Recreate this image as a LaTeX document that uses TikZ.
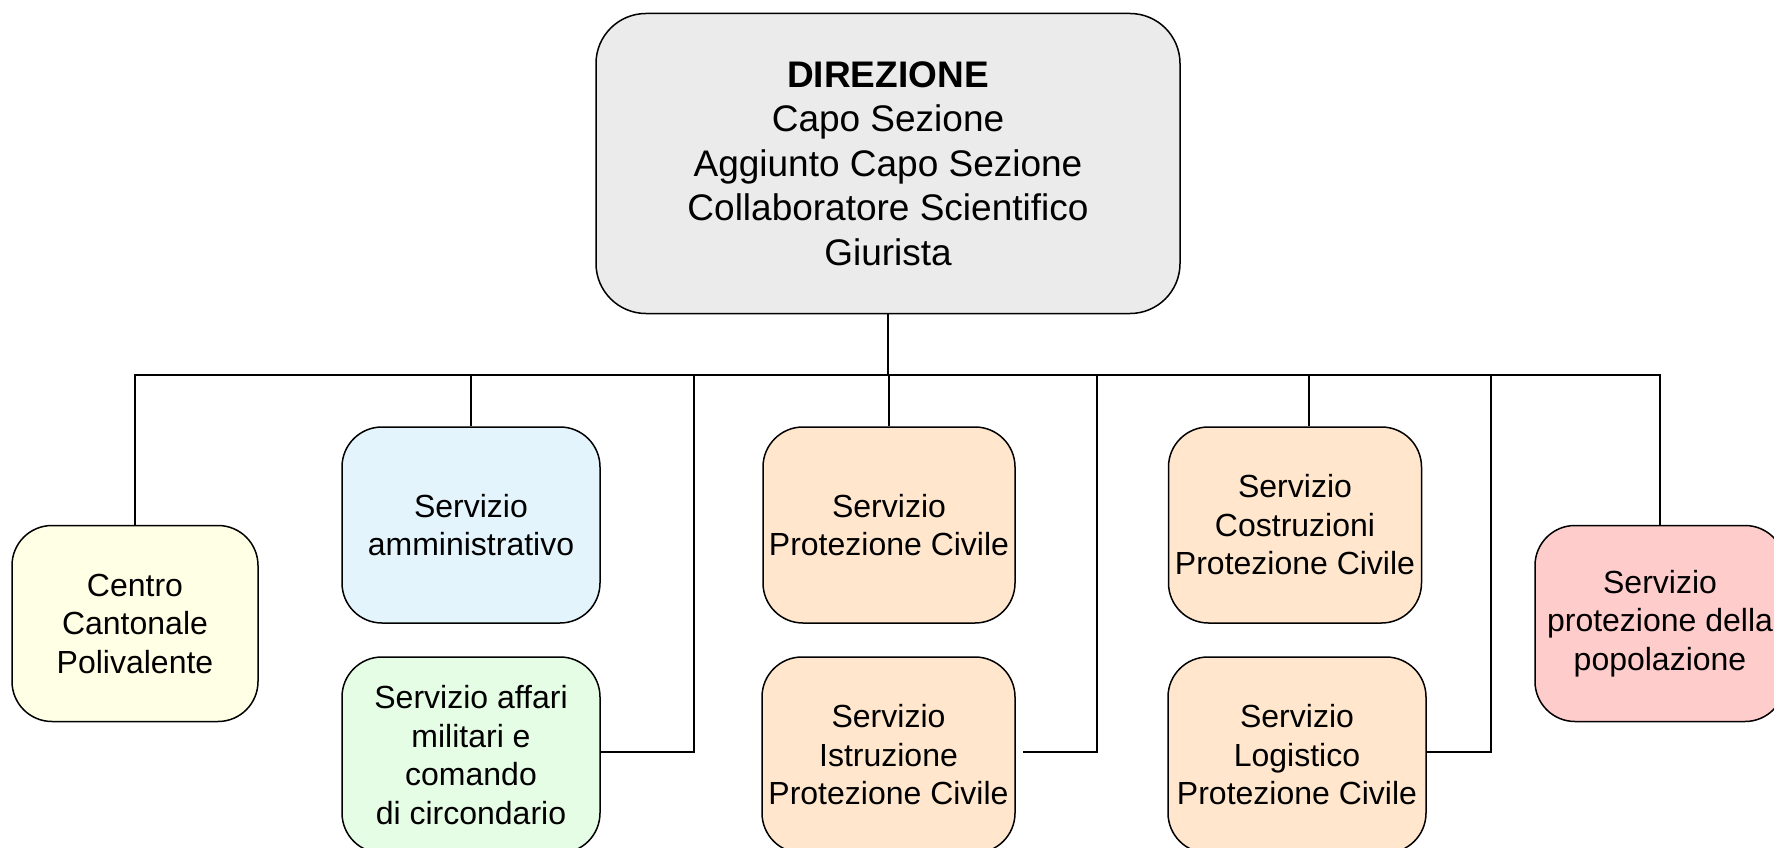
\documentclass[tikz,border=0pt]{standalone}
\usepackage{fontspec}
\setmainfont{Liberation Sans}
\usetikzlibrary{positioning}

\definecolor{dirgray}{HTML}{EBEBEB}
\definecolor{centroyellow}{HTML}{FFFFE5}
\definecolor{ammblue}{HTML}{E3F4FC}
\definecolor{milgreen}{HTML}{E5FCE5}
\definecolor{pcpeach}{HTML}{FFE6CC}
\definecolor{poppink}{HTML}{FFCCCC}

\tikzset{
    servbox/.style={draw,line width=1.5pt,rounded corners=40pt,align=center,
        inner sep=0pt,minimum height=196pt,
        font=\fontsize{32}{38.5}\selectfont},
    link/.style={line width=1.5pt}
}

\begin{document}
\begin{tikzpicture}[x=1pt,y=-1pt]
        \useasboundingbox (0,0) rectangle (1774,848);

        % Direzione
        \node[draw,line width=1.5pt,rounded corners=50pt,fill=dirgray,align=center,
            inner sep=0pt,minimum width=584pt,minimum height=300pt,
            font=\fontsize{37}{44.5}\selectfont] (direzione) at (888,163.5)
            {\textbf{DIREZIONE}\\Capo Sezione\\Aggiunto Capo Sezione\\Collaboratore Scientifico\\Giurista};

        % Servizi
        \node[servbox,fill=centroyellow,minimum width=246pt] (centro) at (135,623.5)
            {Centro\\Cantonale\\Polivalente};
        \node[servbox,fill=ammblue,minimum width=258pt] (amministrativo) at (471,525)
            {Servizio\\amministrativo};
        \node[servbox,fill=milgreen,minimum width=258pt] (militari) at (471,755)
            {Servizio affari\\militari e\\comando\\di circondario};
        \node[servbox,fill=pcpeach,minimum width=252pt] (protezione) at (889,525)
            {Servizio\\Protezione Civile};
        \node[servbox,fill=pcpeach,minimum width=253pt] (istruzione) at (888.5,755)
            {Servizio\\Istruzione\\Protezione Civile};
        \node[servbox,fill=pcpeach,minimum width=253pt] (costruzioni) at (1295,525)
            {Servizio\\Costruzioni\\Protezione Civile};
        \node[servbox,fill=pcpeach,minimum width=258pt] (logistico) at (1297,755)
            {Servizio\\Logistico\\Protezione Civile};
        \node[servbox,fill=poppink,minimum width=250pt] (popolazione) at (1660,623.5)
            {Servizio\\protezione della\\popolazione};

        % Linee
        \coordinate (bus) at (0,375);
        \coordinate (jmil) at (694,375);
        \coordinate (jist) at (1097,375);
        \coordinate (jlog) at (1491,375);

        \draw[link] (centro.north) |- (popolazione.north |- bus) -- (popolazione.north);
        \draw[link] (direzione.south) -- (direzione.south |- bus);
        \draw[link] (amministrativo.north) -- (amministrativo.north |- bus);
        \draw[link] (protezione.north) -- (protezione.north |- bus);
        \draw[link] ([xshift=14pt]costruzioni.north) -- ([xshift=14pt]costruzioni.north |- bus);
        \draw[link] ([yshift=3pt]militari.east) -| (jmil);
        \draw[link] ([xshift=7pt,yshift=3pt]istruzione.east) -| (jist);
        \draw[link] ([yshift=3pt]logistico.east) -| (jlog);
    \end{tikzpicture}
\end{document}
